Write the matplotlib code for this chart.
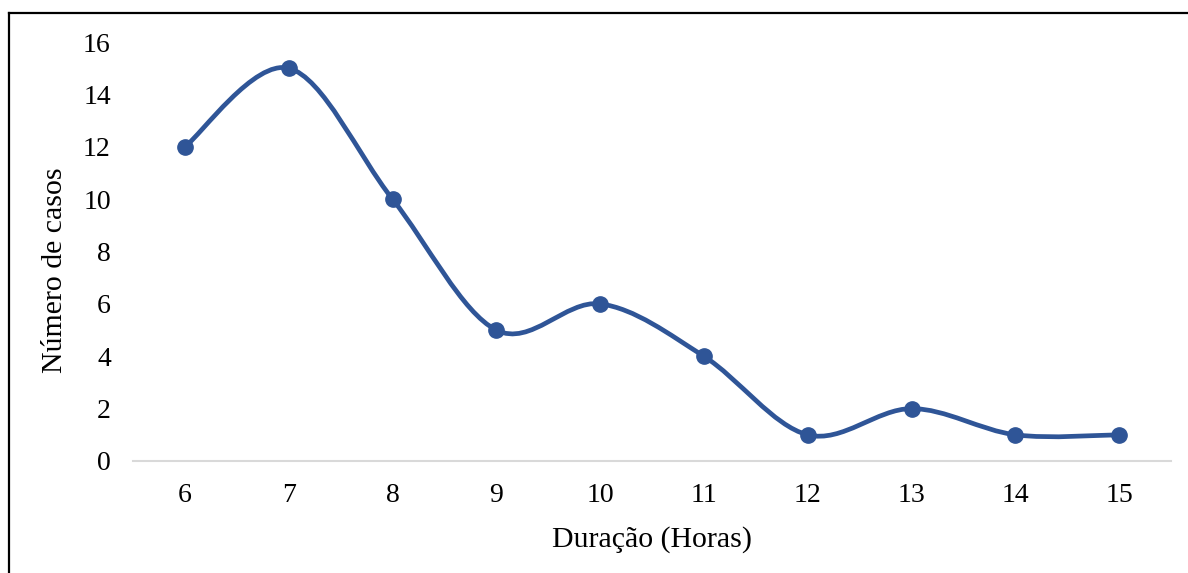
import matplotlib
matplotlib.use("Agg")
import matplotlib.pyplot as plt
from matplotlib.path import Path
from matplotlib.patches import PathPatch
from matplotlib.lines import Line2D
import numpy as np

horas = ["6", "7", "8", "9", "10", "11", "12", "13", "14", "15"]
casos = [12, 15, 10, 5, 6, 4, 1, 2, 1, 1]
y_ticks = [0, 2, 4, 6, 8, 10, 12, 14, 16]

plt.rcParams['font.family'] = ['Liberation Serif', 'DejaVu Serif']
color = '#2F5597'

fig = plt.figure(figsize=(11.88, 5.73), dpi=100)
ax = fig.add_axes([133/1188, 1-461/573, (1171-133)/1188, (461-42)/573])

x = np.arange(len(horas), dtype=float)
y = np.array(casos, dtype=float)

# Excel-like smoothed line (Catmull-Rom as cubic Bezier)
verts = [(x[0], y[0])]
codes = [Path.MOVETO]
n = len(x)
for i in range(n - 1):
    p0 = np.array([x[max(i-1, 0)], y[max(i-1, 0)]])
    p1 = np.array([x[i], y[i]])
    p2 = np.array([x[i+1], y[i+1]])
    p3 = np.array([x[min(i+2, n-1)], y[min(i+2, n-1)]])
    c1 = p1 + (p2 - p0) / 6
    c2 = p2 - (p3 - p1) / 6
    verts += [tuple(c1), tuple(c2), tuple(p2)]
    codes += [Path.CURVE4] * 3
ax.add_patch(PathPatch(Path(verts, codes), fill=False, edgecolor=color,
                       lw=3.4, capstyle='round', joinstyle='round', zorder=2))
ax.plot(x, y, 'o', color=color, markersize=11, zorder=3)

ax.set_xlim(-0.5, n - 0.5)
ax.set_ylim(0, 16)
ax.set_xticks(x)
ax.set_xticklabels(horas)
ax.set_yticks(y_ticks)
ax.tick_params(axis='both', length=0, labelsize=20)
ax.tick_params(axis='x', pad=16)
ax.tick_params(axis='y', pad=16)
for s in ['top', 'right', 'left']:
    ax.spines[s].set_visible(False)
ax.spines['bottom'].set_color('#D9D9D9')
ax.spines['bottom'].set_linewidth(1.5)

ax.set_xlabel('Duração (Horas)', fontsize=21.5, labelpad=13)
ax.set_ylabel('Número de casos', fontsize=21.5)
ax.yaxis.set_label_coords(-(133 - 68) / (1171 - 133), (461 - 270) / (461 - 42))

# Border: only left and top edges visible
bx = 9/1188
by = 1 - 13/573
fig.add_artist(Line2D([bx, bx], [0, by], transform=fig.transFigure, color='black', lw=1.6))
fig.add_artist(Line2D([bx, 1], [by, by], transform=fig.transFigure, color='black', lw=1.6))

fig.savefig('out.png', dpi=100)
